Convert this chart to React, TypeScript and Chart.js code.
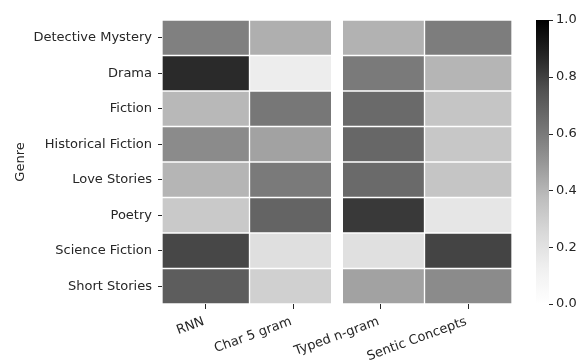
import React, { useEffect, useRef } from "react";
import { Chart, registerables } from "chart.js";

Chart.register(...registerables);

// Row / column labels
const genres = [
  "Detective Mystery",
  "Drama",
  "Fiction",
  "Historical Fiction",
  "Love Stories",
  "Poetry",
  "Science Fiction",
  "Short Stories",
];
const methods = ["RNN", "Char 5 gram", "Typed n-gram", "Sentic Concepts"];

// Cell values per column (one entry per genre)
const rnn = [0.58, 0.86, 0.39, 0.54, 0.4, 0.32, 0.78, 0.71];
const char5 = [0.42, 0.14, 0.61, 0.46, 0.6, 0.68, 0.22, 0.29];
const typed = [0.41, 0.6, 0.66, 0.67, 0.66, 0.82, 0.21, 0.46];
const sentic = [0.59, 0.4, 0.34, 0.33, 0.34, 0.18, 0.79, 0.54];
const columns = [rnn, char5, typed, sentic];

const colorbarTicks = [0, 0.2, 0.4, 0.6, 0.8, 1.0];

// "Greys" colormap control points (0 -> white, 1 -> black)
const greyStops = [255, 240, 217, 189, 150, 115, 82, 37, 0];

function grey(v: number): string {
  const t = Math.min(1, Math.max(0, v)) * (greyStops.length - 1);
  const i = Math.min(Math.floor(t), greyStops.length - 2);
  const f = t - i;
  const g = Math.round(greyStops[i] + (greyStops[i + 1] - greyStops[i]) * f);
  return `rgb(${g},${g},${g})`;
}

const FONT = { family: "'DejaVu Sans', sans-serif", size: 13 };
const TEXT = "#262626";

// White separator between the two column groups
const groupGap = {
  id: "groupGap",
  afterDatasetsDraw(chart: any) {
    const { ctx, chartArea, scales } = chart;
    const x = scales.x.getPixelForValue(2);
    ctx.save();
    ctx.fillStyle = "#ffffff";
    ctx.fillRect(x - 6, chartArea.top, 12, chartArea.bottom - chartArea.top);
    ctx.restore();
  },
};

// Colour bar drawn against the "cbar" scale
const colorbar = {
  id: "colorbar",
  afterDraw(chart: any) {
    const { ctx, chartArea, scales } = chart;
    const s = scales.cbar;
    const x0 = chartArea.right + 24;
    const w = 13;
    const yTop = s.getPixelForValue(1);
    const yBot = s.getPixelForValue(0);
    const grad = ctx.createLinearGradient(0, yBot, 0, yTop);
    greyStops.forEach((g: number, i: number) => {
      grad.addColorStop(i / (greyStops.length - 1), `rgb(${g},${g},${g})`);
    });
    ctx.save();
    ctx.fillStyle = grad;
    ctx.fillRect(x0, yTop, w, yBot - yTop);
    ctx.strokeStyle = TEXT;
    ctx.lineWidth = 1;
    colorbarTicks.forEach((v) => {
      const y = Math.round(s.getPixelForValue(v)) + 0.5;
      ctx.beginPath();
      ctx.moveTo(x0 + w, y);
      ctx.lineTo(x0 + w + 4, y);
      ctx.stroke();
    });
    ctx.restore();
  },
};

export default function App() {
  const ref = useRef<HTMLCanvasElement | null>(null);

  useEffect(() => {
    if (!ref.current) return;
    const datasets = columns.map((vals, c) => ({
      label: methods[c],
      data: vals.map(() => [c, c + 1]),
      backgroundColor: vals.map(grey),
      borderColor: "#ffffff",
      borderWidth: 1,
      borderSkipped: false,
      barPercentage: 1,
      categoryPercentage: 1,
      grouped: false,
    }));

    const chart = new Chart(ref.current, {
      type: "bar",
      data: { labels: genres, datasets: datasets as any },
      options: {
        indexAxis: "y",
        responsive: false,
        animation: false,
        layout: { padding: { top: 20, left: 0, right: 0, bottom: 0 } },
        plugins: {
          legend: { display: false },
          tooltip: { enabled: false },
        },
        scales: {
          x: {
            type: "linear",
            position: "bottom",
            min: 0,
            max: 4,
            afterBuildTicks: (s: any) => {
              s.ticks = methods.map((_, i) => ({ value: i + 0.5 }));
            },
            ticks: {
              autoSkip: false,
              minRotation: 20,
              maxRotation: 20,
              padding: 5,
              labelOffset: -2,
              color: TEXT,
              font: FONT,
              callback: (_v: any, i: number) => methods[i],
            },
            grid: { drawOnChartArea: false, tickLength: 5, color: TEXT },
            border: { display: false },
            afterFit: (s: any) => {
              s.height = 57;
            },
          },
          y: {
            type: "category",
            position: "left",
            offset: true,
            ticks: { color: TEXT, font: FONT, padding: 6 },
            grid: { drawOnChartArea: false, tickLength: 4, offset: false, color: TEXT },
            border: { display: false },
            title: {
              display: true,
              text: "Genre",
              color: TEXT,
              font: FONT,
              padding: { top: 13, bottom: 0 },
            },
            afterFit: (s: any) => {
              s.width = 162;
            },
          },
          cbar: {
            type: "linear",
            position: "right",
            min: 0,
            max: 1,
            offset: false,
            afterBuildTicks: (s: any) => {
              s.ticks = colorbarTicks.map((v) => ({ value: v }));
            },
            ticks: {
              color: TEXT,
              font: FONT,
              padding: 0,
              callback: (v: any) => Number(v).toFixed(1),
            },
            grid: {
              display: true,
              offset: false,
              drawOnChartArea: false,
              drawTicks: true,
              tickLength: 44,
              color: "rgba(0,0,0,0)",
            },
            border: { display: false },
            afterFit: (s: any) => {
              s.width = 68;
            },
          },
        },
      } as any,
      plugins: [groupGap, colorbar],
    });
    return () => chart.destroy();
  }, []);

  return (
    <div style={{ position: "absolute", left: 0, top: 0, width: 580, height: 361, background: "#fff" }}>
      <canvas ref={ref} width={580} height={361} style={{ display: "block" }} />
    </div>
  );
}
